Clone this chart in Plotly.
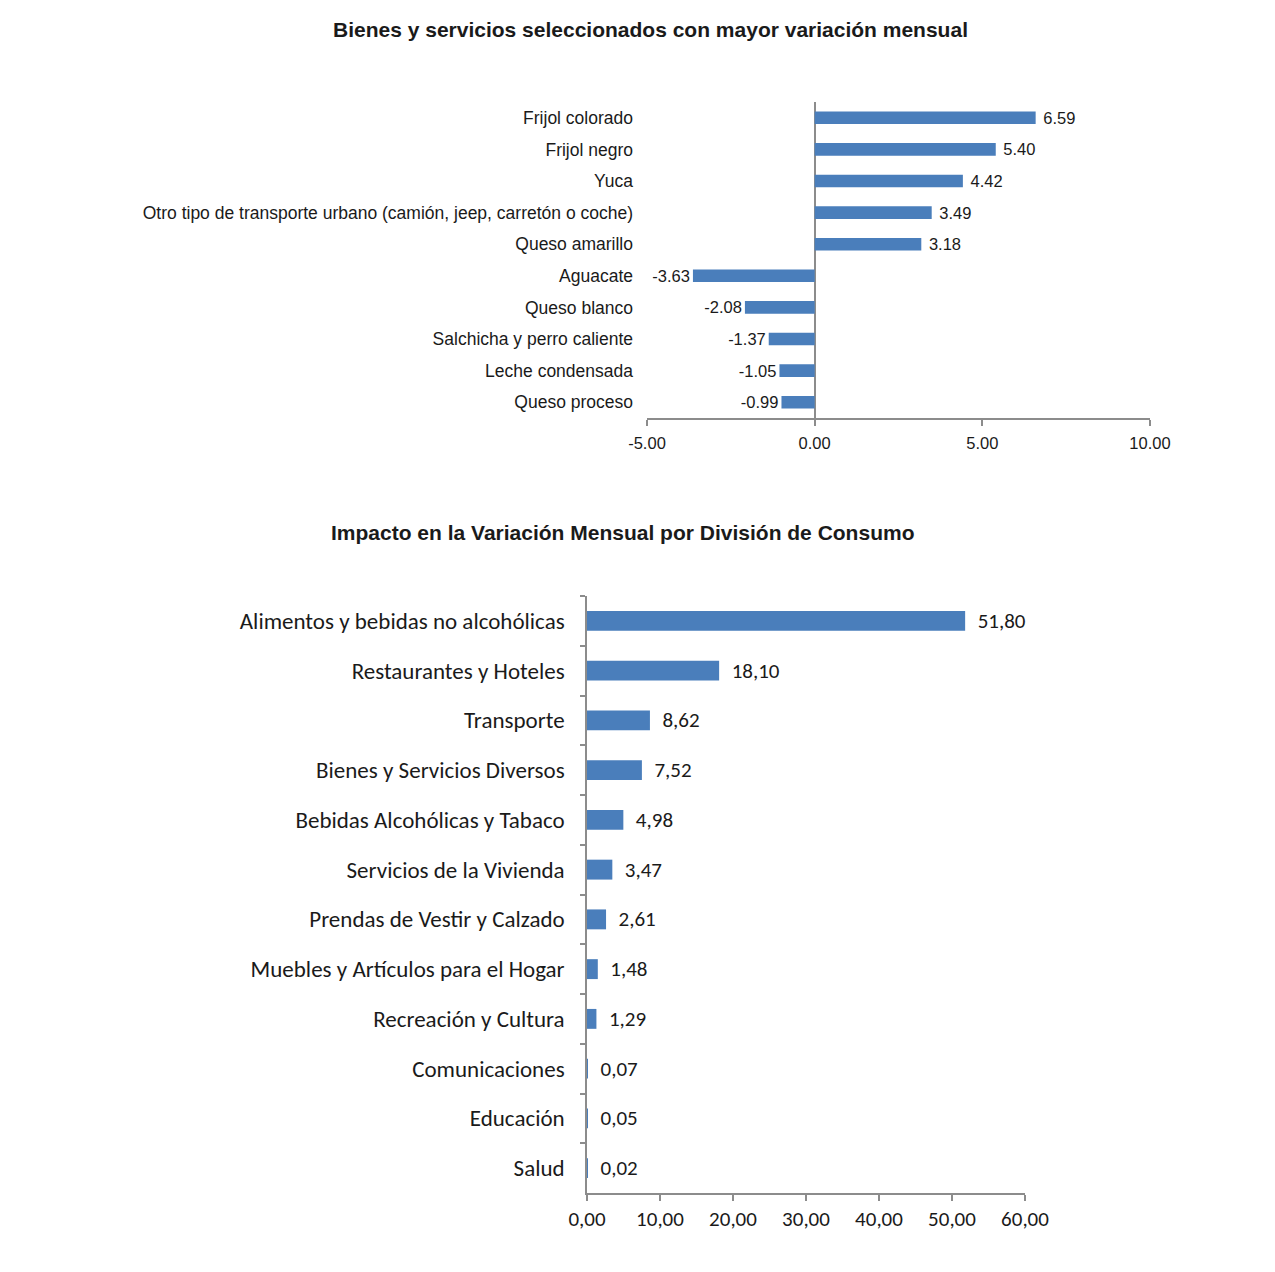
import plotly.graph_objects as go

# ---- Data: top chart ----
top_categories = [
    "Frijol colorado", "Frijol negro", "Yuca",
    "Otro tipo de transporte urbano (camión, jeep, carretón o coche)",
    "Queso amarillo", "Aguacate", "Queso blanco",
    "Salchicha y perro caliente", "Leche condensada", "Queso proceso",
]
top_values = [6.59, 5.40, 4.42, 3.49, 3.18, -3.63, -2.08, -1.37, -1.05, -0.99]
top_ticks = [-5, 0, 5, 10]
top_ticklabels = ["-5.00", "0.00", "5.00", "10.00"]

# ---- Data: bottom chart ----
bot_categories = [
    "Alimentos y bebidas no alcohólicas", "Restaurantes y Hoteles", "Transporte",
    "Bienes y Servicios Diversos", "Bebidas Alcohólicas y Tabaco",
    "Servicios de la Vivienda", "Prendas de Vestir y Calzado",
    "Muebles y Artículos para el Hogar", "Recreación y Cultura",
    "Comunicaciones", "Educación", "Salud",
]
bot_values = [51.80, 18.10, 8.62, 7.52, 4.98, 3.47, 2.61, 1.48, 1.29, 0.07, 0.05, 0.02]
bot_ticks = [0, 10, 20, 30, 40, 50, 60]
bot_ticklabels = ["0,00", "10,00", "20,00", "30,00", "40,00", "50,00", "60,00"]

BAR = "#4a7ebb"
AXIS = "#8c8c8c"
TXT = "#1a1a1a"
ARIAL = "Liberation Sans, Arial, sans-serif"
CAL = "Carlito, Calibri, Lato, sans-serif"

OFF = 8  # page body margin
W, H = 1275 - 2 * OFF, 1272 - 2 * OFF

def px_x(a, b):
    return [(a - OFF) / W, (b - OFF) / W]

def px_y(top, bottom):
    return [1 - (bottom - OFF) / H, 1 - (top - OFF) / H]

NB = "\u00a0"

fig = go.Figure()

fig.add_trace(go.Bar(
    x=top_values, y=top_categories, orientation="h",
    marker=dict(color=BAR, line=dict(width=0)), width=0.4,
    text=[(NB + f"{v:.2f}") if v >= 0 else f"{v:.2f}" for v in top_values],
    textposition="outside", constraintext="none",
    textfont=dict(family=ARIAL, size=16.5, color=TXT),
    cliponaxis=False, xaxis="x", yaxis="y", showlegend=False,
))

fig.add_trace(go.Bar(
    x=bot_values, y=bot_categories, orientation="h",
    marker=dict(color=BAR, line=dict(width=0)), width=0.4,
    text=[NB + NB + f"{v:.2f}".replace(".", ",") for v in bot_values],
    textposition="outside", constraintext="none",
    textfont=dict(family=CAL, size=21, color=TXT),
    cliponaxis=False, xaxis="x2", yaxis="y2", showlegend=False,
))

fig.update_layout(
    width=W, height=H,
    margin=dict(l=0, r=0, t=0, b=0, autoexpand=False),
    paper_bgcolor="white", plot_bgcolor="white",
    xaxis=dict(
        domain=px_x(647, 1150), anchor="y", range=[-5, 10], automargin=False,
        tickvals=top_ticks, ticktext=top_ticklabels,
        showgrid=False, showline=True, linecolor=AXIS, linewidth=1.5,
        ticks="outside", ticklen=6, tickcolor=AXIS, tickwidth=1.5,
        zeroline=True, zerolinecolor=AXIS, zerolinewidth=1.5,
        ticklabelstandoff=3,
        tickfont=dict(family=ARIAL, size=16.5, color=TXT),
    ),
    yaxis=dict(
        domain=px_y(102, 418), anchor="x", autorange="reversed", automargin=False,
        showgrid=False, showline=False, ticks="",
        ticklabelstandoff=13,
        tickfont=dict(family=ARIAL, size=17.5, color=TXT),
    ),
    xaxis2=dict(
        domain=px_x(587, 1025), anchor="y2", range=[0, 60], automargin=False,
        tickvals=bot_ticks, ticktext=bot_ticklabels,
        showgrid=False, showline=True, linecolor=AXIS, linewidth=1.5,
        ticks="outside", ticklen=6, tickcolor=AXIS, tickwidth=1.5,
        zeroline=False,
        tickfont=dict(family=CAL, size=21, color=TXT),
    ),
    yaxis2=dict(
        domain=px_y(596, 1193), anchor="x2", autorange="reversed", automargin=False,
        showgrid=False, showline=True, linecolor=AXIS, linewidth=1.5,
        ticks="outside", ticklen=5, tickcolor=AXIS, tickwidth=1.5,
        tickson="boundaries", ticklabelstandoff=16,
        tickfont=dict(family=CAL, size=23, color=TXT),
    ),
    annotations=[
        dict(text="<b>Bienes y servicios seleccionados con mayor variación mensual</b>",
             x=(650 - OFF) / W, y=1 - (29 - OFF) / H, xref="paper", yref="paper",
             xanchor="center", yanchor="middle", showarrow=False,
             font=dict(family=ARIAL, size=21, color=TXT)),
        dict(text="<b>Impacto en la Variación Mensual por División de Consumo</b>",
             x=(622 - OFF) / W, y=1 - (533 - OFF) / H, xref="paper", yref="paper",
             xanchor="center", yanchor="middle", showarrow=False,
             font=dict(family=ARIAL, size=21, color=TXT)),
    ],
)

fig.write_html("out.html")
